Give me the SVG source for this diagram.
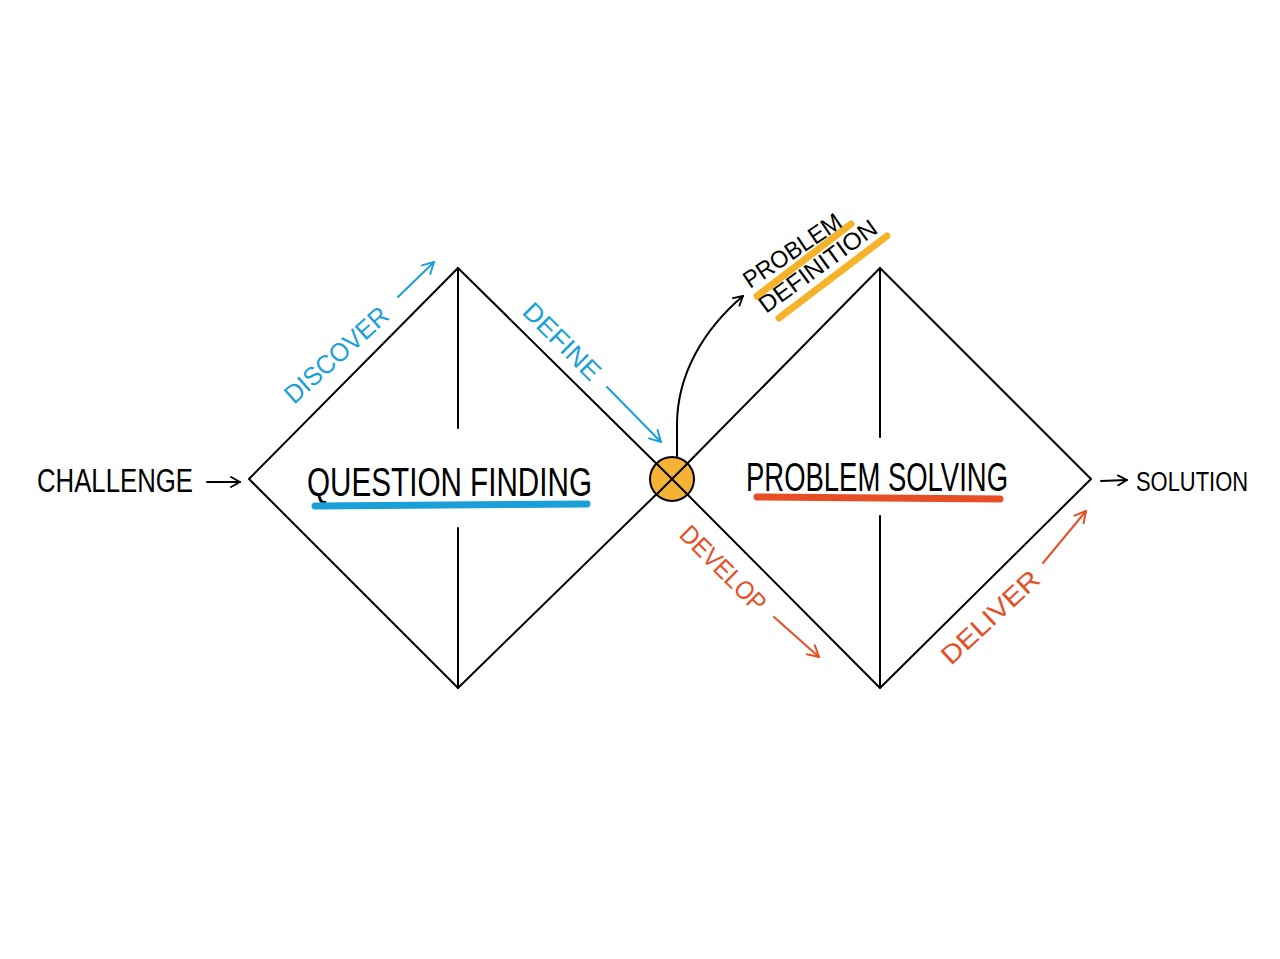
<svg xmlns="http://www.w3.org/2000/svg" width="1280" height="959" viewBox="0 0 1280 959">
<style>
.ln{fill:none;stroke:#000;stroke-width:2;stroke-linecap:round;stroke-linejoin:round}
.t{font-family:"Liberation Sans",Arial,sans-serif;fill:#000}
.blue{fill:#1a9fd8}
.red{fill:#e84e26}
.ab{fill:none;stroke:#1a9fd8;stroke-width:2;stroke-linecap:round}
.ar{fill:none;stroke:#e84e26;stroke-width:2;stroke-linecap:round}
.ak{fill:none;stroke:#000;stroke-width:2;stroke-linecap:round}
.hl{fill:none;stroke:#f4b329;stroke-width:7;stroke-linecap:round}
</style>
<defs>
<marker id="mk" viewBox="0 0 12 12" refX="11" refY="6" markerWidth="12" markerHeight="12" markerUnits="userSpaceOnUse" orient="auto"><polyline points="2,1 11,6 2,11" fill="none" stroke="#000" stroke-width="1.8" stroke-linecap="round" stroke-linejoin="round"/></marker>
<marker id="mb" viewBox="0 0 14 14" refX="13" refY="7" markerWidth="14" markerHeight="14" markerUnits="userSpaceOnUse" orient="auto"><polyline points="2,1 13,7 2,13" fill="none" stroke="#1a9fd8" stroke-width="2" stroke-linecap="round" stroke-linejoin="round"/></marker>
<marker id="mr" viewBox="0 0 14 14" refX="13" refY="7" markerWidth="14" markerHeight="14" markerUnits="userSpaceOnUse" orient="auto"><polyline points="2,1 13,7 2,13" fill="none" stroke="#e84e26" stroke-width="2" stroke-linecap="round" stroke-linejoin="round"/></marker>
</defs>
<rect width="1280" height="959" fill="#fff"/>

<g id="question-finding">
<polygon class="ln" points="249,479 458,268 672,479 458,688"/>
<line class="ln" x1="458" y1="268" x2="458" y2="428"/>
<line class="ln" x1="458" y1="528" x2="458" y2="688"/>
<text class="t" x="307" y="496" font-size="40" textLength="285" lengthAdjust="spacingAndGlyphs">QUESTION FINDING</text>
<line x1="315" y1="506" x2="587" y2="504" stroke="#1a9fd8" stroke-width="7" stroke-linecap="round"/>
</g>

<g id="problem-solving">
<polygon class="ln" points="672,479 880,268 1091,479 880,688"/>
<line class="ln" x1="880" y1="268" x2="880" y2="437"/>
<line class="ln" x1="880" y1="516" x2="880" y2="688"/>
<text class="t" x="746" y="491" font-size="40" textLength="262" lengthAdjust="spacingAndGlyphs">PROBLEM SOLVING</text>
<line x1="757" y1="497" x2="1000" y2="499" stroke="#e84e26" stroke-width="7" stroke-linecap="round"/>
</g>

<g id="junction">
<circle cx="672" cy="479" r="22" fill="#f5b335" stroke="#000" stroke-width="2"/>
<line class="ln" x1="656" y1="463" x2="688" y2="495"/>
<line class="ln" x1="688" y1="463" x2="656" y2="495"/>
</g>

<g id="challenge">
<text class="t" x="37" y="492" font-size="33" textLength="156" lengthAdjust="spacingAndGlyphs">CHALLENGE</text>
</g>

<g id="solution">
<text class="t" x="1136" y="491" font-size="27" textLength="112" lengthAdjust="spacingAndGlyphs">SOLUTION</text>
</g>

<g id="problem-definition">
<line class="hl" x1="757" y1="296" x2="851" y2="224"/>
<line class="hl" x1="779" y1="318" x2="887" y2="236"/>
<text class="t" font-size="24" transform="translate(750,289) rotate(-34)" textLength="113" lengthAdjust="spacingAndGlyphs">PROBLEM</text>
<text class="t" font-size="24" transform="translate(766,314) rotate(-36)" textLength="140" lengthAdjust="spacingAndGlyphs">DEFINITION</text>
</g>

<g id="phase-labels">
<text class="t blue" font-size="26" transform="translate(294,405) rotate(-42)" textLength="130" lengthAdjust="spacingAndGlyphs">DISCOVER</text>
<text class="t blue" font-size="26" transform="translate(521,313) rotate(45)" textLength="98" lengthAdjust="spacingAndGlyphs">DEFINE</text>
<text class="t red" font-size="26" transform="translate(678,536) rotate(45)" textLength="110" lengthAdjust="spacingAndGlyphs">DEVELOP</text>
<text class="t red" font-size="26" transform="translate(951,666) rotate(-43)" textLength="124" lengthAdjust="spacingAndGlyphs">DELIVER</text>
</g>

<g id="connectors">
<line class="ak" x1="207" y1="482" x2="240" y2="482" marker-end="url(#mk)"/>
<line class="ak" x1="1101" y1="481" x2="1127" y2="480" marker-end="url(#mk)"/>
<path class="ak" d="M677,457 L677,425 C677,375 703,330 743,296" marker-end="url(#mk)"/>
<line class="ab" x1="398" y1="297" x2="434" y2="262" marker-end="url(#mb)"/>
<line class="ab" x1="607" y1="387" x2="661" y2="442" marker-end="url(#mb)"/>
<line class="ar" x1="774" y1="617" x2="819" y2="657" marker-end="url(#mr)"/>
<line class="ar" x1="1043" y1="563" x2="1086" y2="511" marker-end="url(#mr)"/>
</g>
</svg>
